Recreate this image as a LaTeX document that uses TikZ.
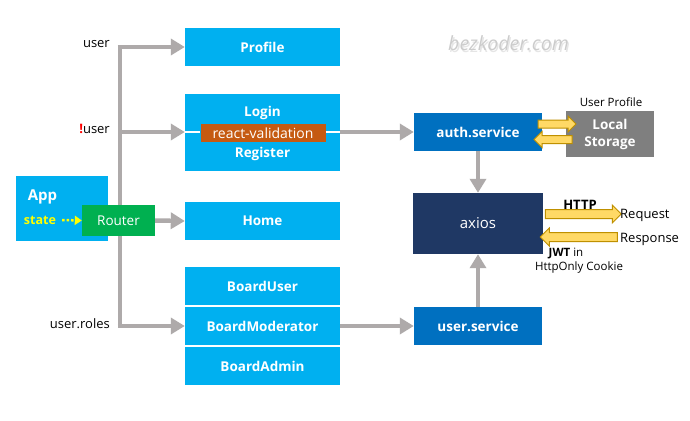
\documentclass[tikz,border=0pt]{standalone}
\usepackage{fontspec}
\setmainfont{Open Sans}
\usetikzlibrary{arrows.meta,shapes.arrows}
\definecolor{sky}{HTML}{00B0F0}
\definecolor{midblue}{HTML}{0070C0}
\definecolor{navy}{HTML}{1F3864}
\definecolor{routergreen}{HTML}{00B050}
\definecolor{rvorange}{HTML}{C55A11}
\definecolor{lsgray}{HTML}{7F7F7F}
\definecolor{conngray}{HTML}{AEAAAA}
\definecolor{blockfill}{HTML}{FFD966}
\definecolor{blockdraw}{HTML}{BF9000}
\definecolor{stateyellow}{HTML}{FFFF00}
\definecolor{bang}{HTML}{FF0000}
\tikzset{
  lbl/.style={font=\fontsize{13}{15}\selectfont, text=black, inner sep=0pt},
  smalllbl/.style={font=\fontsize{11.5}{13}\selectfont, text=black, inner sep=0pt},
  boxtext/.style={font=\fontsize{13.5}{15}\selectfont\bfseries, text=white},
  skybox/.style={fill=sky, draw=none, minimum width=155, minimum height=38, inner sep=0pt, boxtext},
  svcbox/.style={fill=midblue, draw=none, minimum width=128, minimum height=38, inner sep=0pt, boxtext},
  grayline/.style={draw=conngray, line width=4.5pt},
  grayarrow/.style={grayline, -{Triangle[length=14pt,width=16pt]}},
  blockarrow/.style={single arrow, draw=blockdraw, fill=blockfill, line width=1pt,
     inner sep=0pt, inner ysep=3.5pt, single arrow head extend=4pt, single arrow tip angle=90,
     minimum width=15pt},
  bigblock/.style={blockarrow, inner ysep=4pt, single arrow head extend=4.5pt, minimum width=17pt}
}
\begin{document}
\begin{tikzpicture}[x=1pt,y=-1pt]
\useasboundingbox[fill=white] (0,0) rectangle (690,420);

% watermark
\node[font=\fontsize{19.5}{22}\selectfont\itshape, text=black!10, inner sep=0pt] (wm2) at (509.8,44.8) {bezkoder.com};
\node[font=\fontsize{19.5}{22}\selectfont\itshape, text=black!20, inner sep=0pt] (wm) at (508.5,43.5) {bezkoder.com};

% left column boxes
\node[skybox] (profile) at (262.5,47) {Profile};
\node[skybox, minimum height=77] (login) at (262.5,132) {};
\node[boxtext, inner sep=0pt] (logintxt) at (262.5,112.5) {Login};
\node[boxtext, inner sep=0pt] (regtxt) at (262.5,154) {Register};
\node[fill=rvorange, minimum width=125, minimum height=18, inner sep=0pt,
      font=\fontsize{14}{16}\selectfont, text=white] (rv) at (263,133) {react-validation};
\draw[white, line width=2pt] (login.west) -- (rv.west |- login.west);
\draw[white, line width=2pt] (rv.east |- login.east) -- (login.east);
\node[skybox] (home) at (262.5,221) {Home};
\node[skybox] (buser) at (262.5,286) {BoardUser};
\node[skybox] (bmod) at (262.5,326) {BoardModerator};
\node[skybox] (badmin) at (262.5,366) {BoardAdmin};

% App and router
\node[fill=sky, minimum width=92, minimum height=65, inner sep=0pt] (app) at (62,208.5) {};
\node[font=\fontsize{15}{17}\selectfont\bfseries, text=white, inner sep=0pt] (apptxt) at (42.5,197) {App};
\node[font=\fontsize{12.5}{14}\selectfont\bfseries, text=stateyellow, inner sep=0pt] (state) at (40,220) {state};
\node[fill=routergreen, minimum width=73, minimum height=31, inner sep=0pt,
      font=\fontsize{13.5}{15}\selectfont, text=white] (router) at (118.5,220.5) {Router};

% services
\node[svcbox] (auth) at (478,132) {auth.service};
\node[fill=lsgray, minimum width=88, minimum height=46, inner sep=0pt, align=center,
      font=\fontsize{13.5}{17}\selectfont\bfseries, text=white] (ls) at (610,134) {Local\\Storage};
\node[smalllbl] (uprof) at (611,102) {User Profile};
\node[fill=navy, minimum width=130, minimum height=61, inner sep=0pt,
      font=\fontsize{15}{17}\selectfont, text=white] (axios) at (478,223.5) {axios};
\node[svcbox] (usvc) at (478,326) {user.service};

% condition labels
\node[lbl, anchor=east] (luser) at (110,44) {user};
\node[lbl, anchor=east] (lnuser) at (110,129) {\textcolor{bang}{\bfseries !}user};
\node[lbl, anchor=east] (lroles) at (110,324) {user.roles};

% router tree
\coordinate (c1) at (120,47);
\coordinate (c2) at (120,132);
\coordinate (c4) at (120,326);
\draw[grayline] (c1) -- (router.north -| c1);
\draw[grayline] (router.south -| c1) -- (c4);
\draw[grayarrow] ([xshift=-2.25pt]c1) -- (profile.west);
\draw[grayarrow] (c2) -- (login.west);
\draw[grayarrow] ([xshift=-2.25pt]c4) -- (bmod.west);
\draw[grayarrow] (router.east) -- (home.west);
\draw[grayarrow] (login.east) -- (auth.west);
\draw[grayarrow] (bmod.east) -- (usvc.west);
\draw[grayarrow] (auth.south) -- (axios.north);
\draw[grayarrow] (usvc.north) -- (axios.south);

% state dotted arrow
\draw[stateyellow, line width=2.5pt, dash pattern=on 2.5pt off 2pt, -{Triangle[length=7pt,width=9pt]}]
  (state.east) ++(6,0) coordinate (st0) (st0) -- (router.west);

% block arrows local storage
\node[blockarrow, minimum height=38] (toLS) at (555,124) {};
\node[blockarrow, minimum height=38, shape border rotate=180] (fromLS) at (555,139.5) {};

% http arrows
\node[bigblock, minimum height=76] (req) at (581,214) {};
\node[bigblock, minimum height=77, shape border rotate=180] (resp) at (581,237) {};
\node[lbl, font=\fontsize{13}{15}\selectfont\bfseries] (http) at (580,205) {HTTP};
\node[lbl, anchor=west] (reqtxt) at (620,215) {Request};
\node[lbl, anchor=west] (resptxt) at (620,239) {Response};
\node[smalllbl] (jwt) at (566,253) {\textbf{JWT} in};
\node[smalllbl] (cookie) at (579,268) {HttpOnly Cookie};
\end{tikzpicture}
\end{document}
